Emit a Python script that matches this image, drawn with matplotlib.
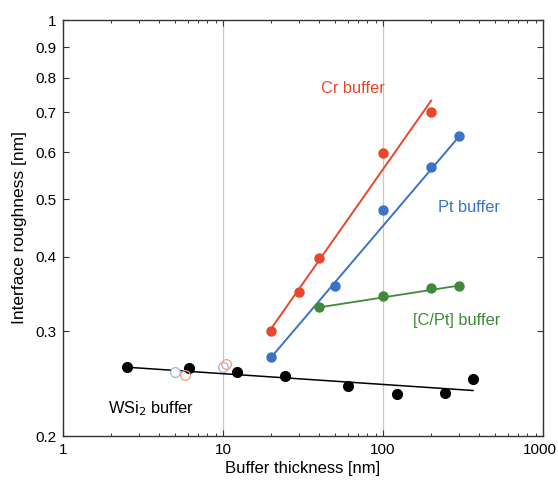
import numpy as np
import matplotlib
matplotlib.use("Agg")
import matplotlib.pyplot as plt
import matplotlib.transforms as mtrans
from matplotlib.ticker import FixedLocator, FixedFormatter, NullLocator

plt.rcParams['font.family'] = ['Liberation Sans', 'DejaVu Sans']

# WSi2 buffer (black, filled)
wsi_x = [2.5, 6.1, 12.2, 24.4, 60, 122, 244, 365]
wsi_y = [0.261, 0.260, 0.256, 0.252, 0.243, 0.235, 0.236, 0.249]
wsi_fit_x = [2.5, 365]
wsi_fit_y = [0.261, 0.2385]

# open circles near the WSi2 line
open_blue_x = [5.0, 10.0]
open_blue_y = [0.2564, 0.2608]
open_red_x = [5.8, 10.5]
open_red_y = [0.2533, 0.264]

# Cr buffer
cr_x = [20, 30, 40, 100, 200]
cr_y = [0.300, 0.349, 0.398, 0.598, 0.700]
cr_fit_x = [20, 200]
cr_fit_y = [0.303, 0.732]

# Pt buffer
pt_x = [20, 50, 100, 200, 300]
pt_y = [0.272, 0.358, 0.479, 0.567, 0.638]
pt_fit_x = [19.5, 300]
pt_fit_y = [0.269, 0.638]

# [C/Pt] buffer
cpt_x = [40, 100, 200, 300]
cpt_y = [0.329, 0.344, 0.355, 0.358]
cpt_fit_x = [40, 300]
cpt_fit_y = [0.329, 0.358]

red = '#e8472b'
blue = '#3a73c4'
green = '#3f8a3a'

fig = plt.figure(figsize=(5.58, 4.8), dpi=100)
ax = fig.add_axes([63/558, 44/480, 480/558, 416/480])
ax.set_xscale('log')
ax.set_yscale('log')
ax.set_xlim(1, 1000)
ax.set_ylim(0.2, 1)

for xv in [10, 100]:
    ax.axvline(xv, color='#c8c8c8', lw=0.9, zorder=0)

ax.plot(wsi_fit_x, wsi_fit_y, color='black', lw=1.1)
ax.plot(wsi_x, wsi_y, 'o', color='black', ms=7)
ax.plot(open_blue_x, open_blue_y, 'o', mfc='white', mec='#9fb4e0', ms=7, mew=0.9)
ax.plot(open_red_x, open_red_y, 'o', mfc='none', mec='#f0a080', ms=7, mew=0.9)

ax.plot(cr_fit_x, cr_fit_y, color=red, lw=1.4)
ax.plot(cr_x, cr_y, 'o', color=red, ms=6.5)
ax.plot(pt_fit_x, pt_fit_y, color=blue, lw=1.4)
ax.plot(pt_x, pt_y, 'o', color=blue, ms=6.5)
ax.plot(cpt_fit_x, cpt_fit_y, color=green, lw=1.3)
ax.plot(cpt_x, cpt_y, 'o', color=green, ms=6.5)

ax.text(65, 0.766, 'Cr buffer', color=red, fontsize=11.8, ha='center', va='center')
ax.text(345, 0.485, 'Pt buffer', color=blue, fontsize=11.8, ha='center', va='center')
ax.text(290, 0.313, '[C/Pt] buffer', color=green, fontsize=11.8, ha='center', va='center')
ax.text(1.9, 0.218, 'WSi$_2$ buffer', color='black', fontsize=11.8, ha='left', va='baseline')

ytk = [0.2, 0.3, 0.4, 0.5, 0.6, 0.7, 0.8, 0.9, 1.0]
ylab = ['0.2', '0.3', '0.4', '0.5', '0.6', '0.7', '0.8', '0.9', '1']
ax.yaxis.set_major_locator(FixedLocator(ytk))
ax.yaxis.set_major_formatter(FixedFormatter(ylab))
ax.yaxis.set_minor_locator(NullLocator())

xtk = [1, 10, 100, 1000]
ax.xaxis.set_major_locator(FixedLocator(xtk))
ax.xaxis.set_major_formatter(FixedFormatter(['1', '10', '100', '1000']))
xmin = [m * d for d in [1, 10, 100] for m in range(2, 10)]
ax.xaxis.set_minor_locator(FixedLocator(xmin))

ax.tick_params(which='both', direction='in', top=True, right=True, labelsize=11, colors='#333333', labelcolor='black')
ax.tick_params(which='major', length=4, width=0.8, pad=5)
ax.tick_params(which='minor', length=2.5, width=0.7)
for s in ax.spines.values():
    s.set_color('#333333')
    s.set_linewidth(1.0)

# keep the last x label inside the canvas
last = ax.get_xticklabels()[-1]
last.set_transform(last.get_transform() + mtrans.ScaledTranslation(-3/100, 0, fig.dpi_scale_trans))

ax.set_xlabel('Buffer thickness [nm]', fontsize=12, labelpad=3)
ax.set_ylabel('Interface roughness [nm]', fontsize=12.5, labelpad=6)

fig.savefig('out.png', dpi=100)
